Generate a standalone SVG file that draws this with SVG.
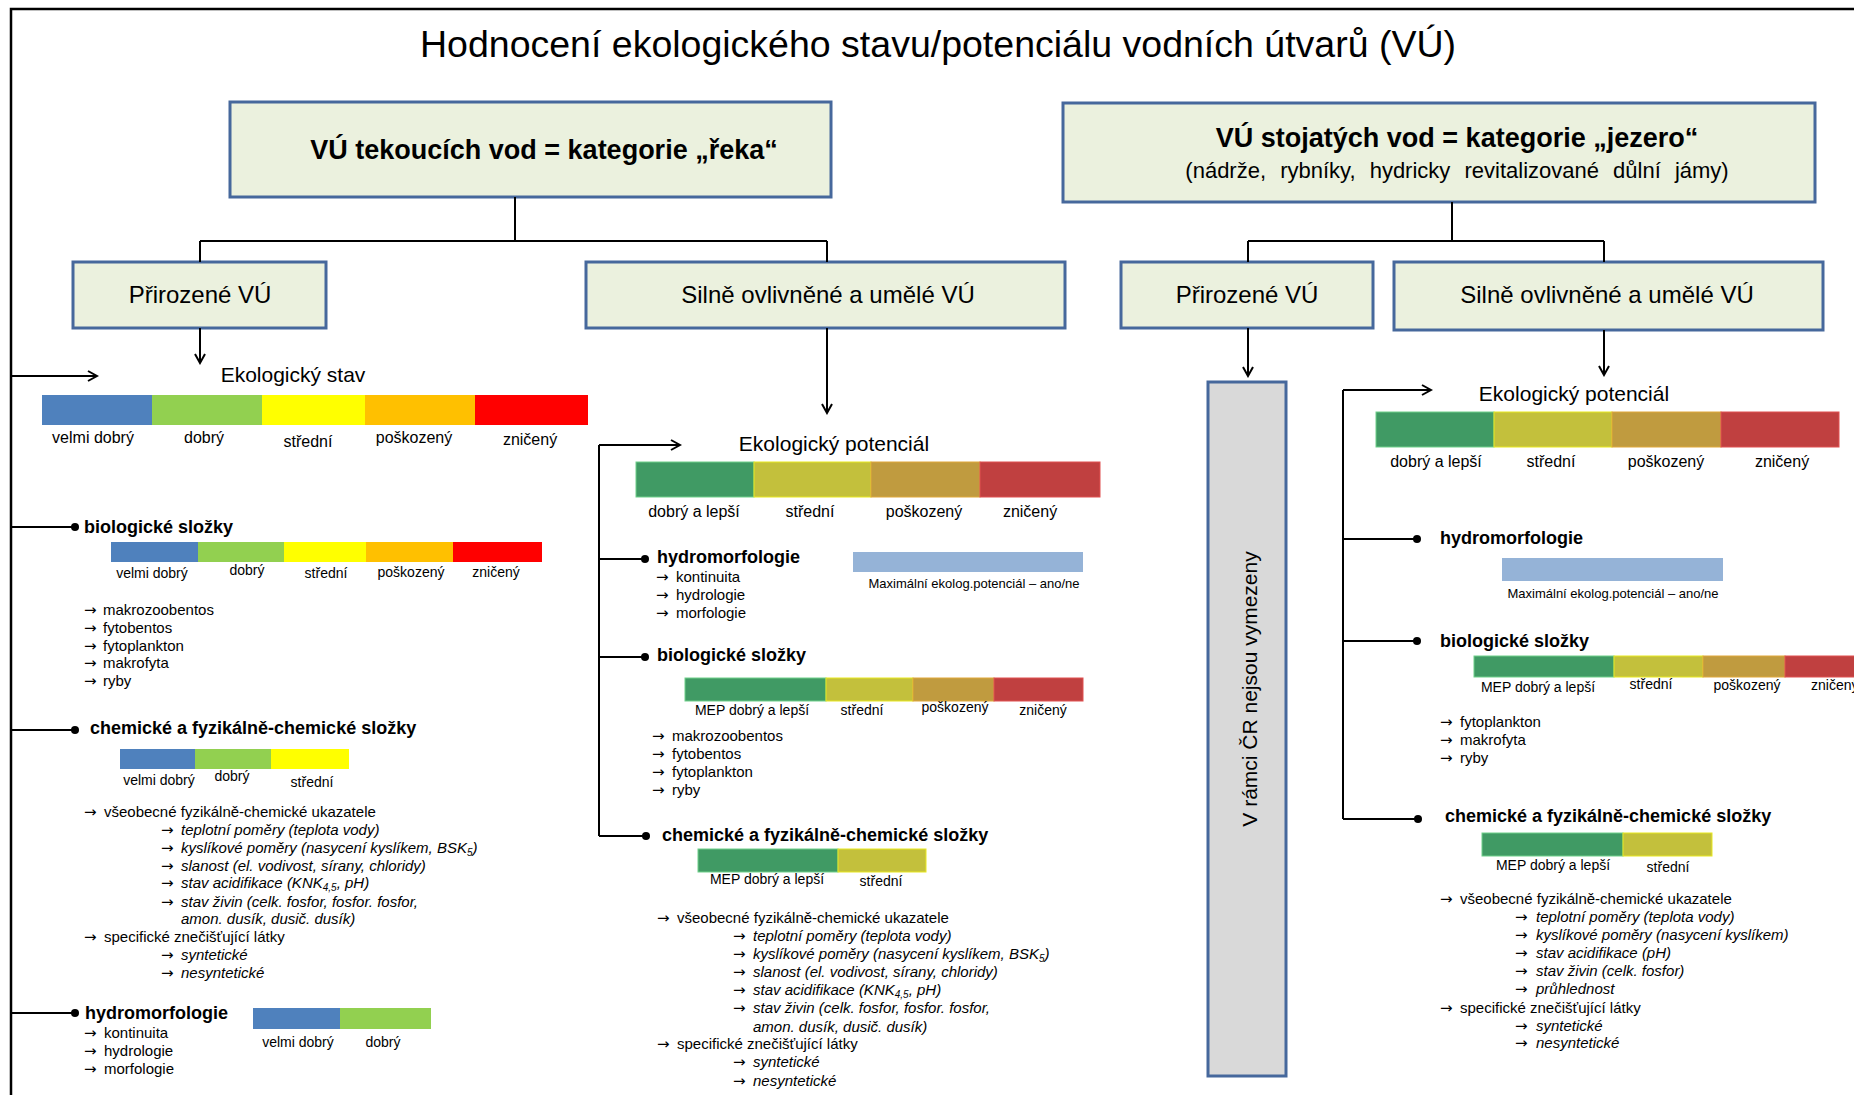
<svg xmlns="http://www.w3.org/2000/svg" width="1854" height="1095" viewBox="0 0 1854 1095">
<defs>
<style>
text{font-family:"Liberation Sans",Arial,sans-serif;fill:#000}
.box{fill:#ebf1de;stroke:#46689c;stroke-width:3}
.grey{fill:#d9d9d9;stroke:#46689c;stroke-width:3}
.con{stroke:#000;stroke-width:2;fill:none}
.t15{font-size:15px}
.ar{font-family:"DejaVu Sans",sans-serif;font-size:15px;font-style:normal}
.b18{font-size:18px;font-weight:bold}
.l16{font-size:16px;text-anchor:middle}
.l14{font-size:14px;text-anchor:middle}
.l13{font-size:13px;text-anchor:middle}
.h21{font-size:21px;text-anchor:middle}
.bx{font-size:24px;text-anchor:middle}
.it{font-style:italic}
.c1{fill:#4f81bd}.c2{fill:#92d050}.c3{fill:#ffff00}.c4{fill:#ffc000}.c5{fill:#ff0000}
.p1{fill:#409a64;stroke:#6fd08a;stroke-width:1}
.p2{fill:#c3c03c;stroke:#e8e820;stroke-width:1}
.p3{fill:#c09b3f;stroke:#e0a83a;stroke-width:1}
.p4{fill:#c04040;stroke:#e05050;stroke-width:1}
.mx{fill:#95b3d7}
</style>
<marker id="arr" markerWidth="12" markerHeight="12" refX="10" refY="6" orient="auto" markerUnits="userSpaceOnUse">
<path d="M1,1 L10,6 L1,11" fill="none" stroke="#000" stroke-width="2"/>
</marker>
</defs>
<rect x="0" y="0" width="1854" height="1095" fill="#fff"/>
<rect x="11" y="9" width="1900" height="1200" fill="none" stroke="#000" stroke-width="2.5"/>

<g id="title"><text x="938" y="57" font-size="37.5" text-anchor="middle">Hodnocení ekologického stavu/potenciálu vodních útvarů (VÚ)</text></g>

<g id="box-reka"><rect class="box" x="230" y="102" width="601" height="95"/>
<text x="544" y="159" font-size="27" font-weight="bold" text-anchor="middle">VÚ tekoucích vod = kategorie „řeka“</text></g>

<g id="box-jezero"><rect class="box" x="1063" y="103" width="752" height="99"/>
<text x="1457" y="147" font-size="27" font-weight="bold" text-anchor="middle">VÚ stojatých vod = kategorie „jezero“</text>
<text x="1457" y="178" font-size="22" text-anchor="middle" word-spacing="8">(nádrže, rybníky, hydricky revitalizované důlní jámy)</text></g>

<g id="box-reka-prir"><rect class="box" x="73" y="262" width="253" height="66"/><text class="bx" x="200" y="303">Přirozené VÚ</text></g>
<g id="box-reka-silne"><rect class="box" x="586" y="262" width="479" height="66"/><text class="bx" x="828" y="303">Silně ovlivněné a umělé VÚ</text></g>
<g id="box-jez-prir"><rect class="box" x="1121" y="262" width="252" height="66"/><text class="bx" x="1247" y="303">Přirozené VÚ</text></g>
<g id="box-jez-silne"><rect class="box" x="1394" y="262" width="429" height="68"/><text class="bx" x="1607" y="303">Silně ovlivněné a umělé VÚ</text></g>

<g id="box-jez-prir-none"><rect class="grey" x="1208" y="382" width="78" height="694"/>
<text transform="translate(1257,689) rotate(-90)" font-size="21" text-anchor="middle">V rámci ČR nejsou vymezeny</text></g>

<g id="connectors">
<path class="con" d="M515,197 V241 M200,241 H827 M200,241 V262 M827,241 V262"/>
<path class="con" d="M1452,202 V241 M1248,241 H1604 M1248,241 V262 M1604,241 V262"/>
<path class="con" d="M200,328 V363" marker-end="url(#arr)"/>
<path class="con" d="M827,328 V413" marker-end="url(#arr)"/>
<path class="con" d="M1248,328 V376" marker-end="url(#arr)"/>
<path class="con" d="M1604,330 V375" marker-end="url(#arr)"/>
<path class="con" d="M11,376 H97" marker-end="url(#arr)"/>
<path class="con" d="M11,527 H75 M11,730 H75 M11,1013 H75"/>
<path class="con" d="M599,836 V445"/>
<path class="con" d="M599,445 H680" marker-end="url(#arr)"/>
<path class="con" d="M599,559 H645 M599,657 H645 M599,836 H646"/>
<path class="con" d="M1343,819 V390"/>
<path class="con" d="M1343,390 H1431" marker-end="url(#arr)"/>
<path class="con" d="M1343,539 H1417 M1343,641 H1417 M1343,819 H1418"/>
<circle cx="75" cy="527" r="4"/><circle cx="75" cy="730" r="4"/><circle cx="75" cy="1013" r="4"/>
<circle cx="645" cy="559" r="4"/><circle cx="645" cy="657" r="4"/><circle cx="646" cy="836" r="4"/>
<circle cx="1417" cy="539" r="4"/><circle cx="1417" cy="641" r="4"/><circle cx="1418" cy="819" r="4"/>
</g>

<g id="reka-prir-stav">
<text class="h21" x="293" y="382">Ekologický stav</text>
<rect class="c1" x="42" y="395" width="110" height="30"/><rect class="c2" x="152" y="395" width="110" height="30"/><rect class="c3" x="262" y="395" width="103" height="30"/><rect class="c4" x="365" y="395" width="110" height="30"/><rect class="c5" x="475" y="395" width="113" height="30"/>
<text class="l16" x="93" y="443">velmi dobrý</text><text class="l16" x="204" y="443">dobrý</text><text class="l16" x="308" y="447">střední</text><text class="l16" x="414" y="443">poškozený</text><text class="l16" x="530" y="445">zničený</text>
</g>

<g id="reka-prir-bio">
<text class="b18" x="84" y="533">biologické složky</text>
<rect class="c1" x="111" y="542" width="87" height="20"/><rect class="c2" x="198" y="542" width="86" height="20"/><rect class="c3" x="284" y="542" width="82" height="20"/><rect class="c4" x="366" y="542" width="87" height="20"/><rect class="c5" x="453" y="542" width="89" height="20"/>
<text class="l14" x="152" y="578">velmi dobrý</text><text class="l14" x="247" y="575">dobrý</text><text class="l14" x="326" y="578">střední</text><text class="l14" x="411" y="577">poškozený</text><text class="l14" x="496" y="577">zničený</text>
<text class="t15" y="615"><tspan class="ar" x="84">→</tspan><tspan x="103">makrozoobentos</tspan></text>
<text class="t15" y="633"><tspan class="ar" x="84">→</tspan><tspan x="103">fytobentos</tspan></text>
<text class="t15" y="651"><tspan class="ar" x="84">→</tspan><tspan x="103">fytoplankton</tspan></text>
<text class="t15" y="668"><tspan class="ar" x="84">→</tspan><tspan x="103">makrofyta</tspan></text>
<text class="t15" y="686"><tspan class="ar" x="84">→</tspan><tspan x="103">ryby</tspan></text>
</g>

<g id="reka-prir-chem">
<text class="b18" x="90" y="734">chemické a fyzikálně-chemické složky</text>
<rect class="c1" x="120" y="749" width="75" height="20"/><rect class="c2" x="195" y="749" width="76" height="20"/><rect class="c3" x="271" y="749" width="78" height="20"/>
<text class="l14" x="159" y="785">velmi dobrý</text><text class="l14" x="232" y="781">dobrý</text><text class="l14" x="312" y="787">střední</text>
<text class="t15" y="817"><tspan class="ar" x="84">→</tspan><tspan x="104">všeobecné fyzikálně-chemické ukazatele</tspan></text>
<text class="t15" y="835"><tspan class="ar" x="161">→</tspan><tspan class="it" x="181">teplotní poměry (teplota vody)</tspan></text>
<text class="t15" y="853"><tspan class="ar" x="161">→</tspan><tspan class="it" x="181">kyslíkové poměry (nasycení kyslíkem, BSK<tspan font-size="10" dy="3">5</tspan><tspan dy="-3">)</tspan></tspan></text>
<text class="t15" y="871"><tspan class="ar" x="161">→</tspan><tspan class="it" x="181">slanost (el. vodivost, sírany, chloridy)</tspan></text>
<text class="t15" y="888"><tspan class="ar" x="161">→</tspan><tspan class="it" x="181">stav acidifikace (KNK<tspan font-size="10" dy="3">4,5</tspan><tspan dy="-3">, pH)</tspan></tspan></text>
<text class="t15" y="907"><tspan class="ar" x="161">→</tspan><tspan class="it" x="181">stav živin (celk. fosfor, fosfor. fosfor,</tspan></text>
<text class="t15 it" x="181" y="924">amon. dusík, dusič. dusík)</text>
<text class="t15" y="942"><tspan class="ar" x="84">→</tspan><tspan x="104">specifické znečišťující látky</tspan></text>
<text class="t15" y="960"><tspan class="ar" x="161">→</tspan><tspan class="it" x="181">syntetické</tspan></text>
<text class="t15" y="978"><tspan class="ar" x="161">→</tspan><tspan class="it" x="181">nesyntetické</tspan></text>
</g>

<g id="reka-prir-hydro">
<text class="b18" x="85" y="1019" font-size="19">hydromorfologie</text>
<text class="t15" y="1038"><tspan class="ar" x="84">→</tspan><tspan x="104">kontinuita</tspan></text>
<text class="t15" y="1056"><tspan class="ar" x="84">→</tspan><tspan x="104">hydrologie</tspan></text>
<text class="t15" y="1074"><tspan class="ar" x="84">→</tspan><tspan x="104">morfologie</tspan></text>
<rect class="c1" x="253" y="1008" width="87" height="21"/><rect class="c2" x="340" y="1008" width="91" height="21"/>
<text class="l14" x="298" y="1047">velmi dobrý</text><text class="l14" x="383" y="1047">dobrý</text>
</g>

<g id="reka-silne-pot">
<text class="h21" x="834" y="451">Ekologický potenciál</text>
<rect class="p1" x="636" y="462" width="118" height="35"/><rect class="p2" x="754" y="462" width="117" height="35"/><rect class="p3" x="871" y="462" width="109" height="35"/><rect class="p4" x="980" y="462" width="120" height="35"/>
<text class="l16" x="694" y="517">dobrý a lepší</text><text class="l16" x="810" y="517">střední</text><text class="l16" x="924" y="517">poškozený</text><text class="l16" x="1030" y="517">zničený</text>
</g>

<g id="reka-silne-hydro">
<text class="b18" x="657" y="563">hydromorfologie</text>
<text class="t15" y="582"><tspan class="ar" x="656">→</tspan><tspan x="676">kontinuita</tspan></text>
<text class="t15" y="600"><tspan class="ar" x="656">→</tspan><tspan x="676">hydrologie</tspan></text>
<text class="t15" y="618"><tspan class="ar" x="656">→</tspan><tspan x="676">morfologie</tspan></text>
<rect class="mx" x="853" y="552" width="230" height="20"/>
<text class="l13" x="974" y="588">Maximální  ekolog.potenciál – ano/ne</text>
</g>

<g id="reka-silne-bio">
<text class="b18" x="657" y="661">biologické složky</text>
<rect class="p1" x="685" y="678" width="141" height="23"/><rect class="p2" x="826" y="678" width="87" height="23"/><rect class="p3" x="913" y="678" width="81" height="23"/><rect class="p4" x="994" y="678" width="89" height="23"/>
<text class="l14" x="752" y="715">MEP dobrý a lepší</text><text class="l14" x="862" y="715">střední</text><text class="l14" x="955" y="712">poškozený</text><text class="l14" x="1043" y="715">zničený</text>
<text class="t15" y="741"><tspan class="ar" x="652">→</tspan><tspan x="672">makrozoobentos</tspan></text>
<text class="t15" y="759"><tspan class="ar" x="652">→</tspan><tspan x="672">fytobentos</tspan></text>
<text class="t15" y="777"><tspan class="ar" x="652">→</tspan><tspan x="672">fytoplankton</tspan></text>
<text class="t15" y="795"><tspan class="ar" x="652">→</tspan><tspan x="672">ryby</tspan></text>
</g>

<g id="reka-silne-chem">
<text class="b18" x="662" y="841">chemické a fyzikálně-chemické složky</text>
<rect class="p1" x="698" y="849" width="140" height="23"/><rect class="p2" x="838" y="849" width="88" height="23"/>
<text class="l14" x="767" y="884">MEP dobrý a lepší</text><text class="l14" x="881" y="886">střední</text>
<text class="t15" y="923"><tspan class="ar" x="657">→</tspan><tspan x="677">všeobecné fyzikálně-chemické ukazatele</tspan></text>
<text class="t15" y="941"><tspan class="ar" x="733">→</tspan><tspan class="it" x="753">teplotní poměry (teplota vody)</tspan></text>
<text class="t15" y="959"><tspan class="ar" x="733">→</tspan><tspan class="it" x="753">kyslíkové poměry (nasycení kyslíkem, BSK<tspan font-size="10" dy="3">5</tspan><tspan dy="-3">)</tspan></tspan></text>
<text class="t15" y="977"><tspan class="ar" x="733">→</tspan><tspan class="it" x="753">slanost (el. vodivost, sírany, chloridy)</tspan></text>
<text class="t15" y="995"><tspan class="ar" x="733">→</tspan><tspan class="it" x="753">stav acidifikace (KNK<tspan font-size="10" dy="3">4,5</tspan><tspan dy="-3">, pH)</tspan></tspan></text>
<text class="t15" y="1013"><tspan class="ar" x="733">→</tspan><tspan class="it" x="753">stav živin (celk. fosfor, fosfor. fosfor,</tspan></text>
<text class="t15 it" x="753" y="1032">amon. dusík, dusič. dusík)</text>
<text class="t15" y="1049"><tspan class="ar" x="657">→</tspan><tspan x="677">specifické znečišťující látky</tspan></text>
<text class="t15" y="1067"><tspan class="ar" x="733">→</tspan><tspan class="it" x="753">syntetické</tspan></text>
<text class="t15" y="1086"><tspan class="ar" x="733">→</tspan><tspan class="it" x="753">nesyntetické</tspan></text>
</g>

<g id="jez-silne-pot">
<text class="h21" x="1574" y="401">Ekologický potenciál</text>
<rect class="p1" x="1376" y="412" width="118" height="35"/><rect class="p2" x="1494" y="412" width="118" height="35"/><rect class="p3" x="1612" y="412" width="109" height="35"/><rect class="p4" x="1721" y="412" width="118" height="35"/>
<text class="l16" x="1436" y="467">dobrý a lepší</text><text class="l16" x="1551" y="467">střední</text><text class="l16" x="1666" y="467">poškozený</text><text class="l16" x="1782" y="467">zničený</text>
</g>

<g id="jez-silne-hydro">
<text class="b18" x="1440" y="544">hydromorfologie</text>
<rect class="mx" x="1502" y="558" width="221" height="23"/>
<text class="l13" x="1613" y="598">Maximální  ekolog.potenciál – ano/ne</text>
</g>

<g id="jez-silne-bio">
<text class="b18" x="1440" y="647">biologické složky</text>
<rect class="p1" x="1474" y="656" width="140" height="21"/><rect class="p2" x="1614" y="656" width="89" height="21"/><rect class="p3" x="1703" y="656" width="82" height="21"/><rect class="p4" x="1785" y="656" width="80" height="21"/>
<text class="l14" x="1538" y="692">MEP dobrý a lepší</text><text class="l14" x="1651" y="689">střední</text><text class="l14" x="1747" y="690">poškozený</text><text font-size="14" x="1811" y="690">zničený</text>
<text class="t15" y="727"><tspan class="ar" x="1440">→</tspan><tspan x="1460">fytoplankton</tspan></text>
<text class="t15" y="745"><tspan class="ar" x="1440">→</tspan><tspan x="1460">makrofyta</tspan></text>
<text class="t15" y="763"><tspan class="ar" x="1440">→</tspan><tspan x="1460">ryby</tspan></text>
</g>

<g id="jez-silne-chem">
<text class="b18" x="1445" y="822">chemické a fyzikálně-chemické složky</text>
<rect class="p1" x="1482" y="833" width="141" height="23"/><rect class="p2" x="1623" y="833" width="89" height="23"/>
<text class="l14" x="1553" y="870">MEP dobrý a lepší</text><text class="l14" x="1668" y="872">střední</text>
<text class="t15" y="904"><tspan class="ar" x="1440">→</tspan><tspan x="1460">všeobecné fyzikálně-chemické ukazatele</tspan></text>
<text class="t15" y="922"><tspan class="ar" x="1515">→</tspan><tspan class="it" x="1536">teplotní poměry (teplota vody)</tspan></text>
<text class="t15" y="940"><tspan class="ar" x="1515">→</tspan><tspan class="it" x="1536">kyslíkové poměry (nasycení kyslíkem)</tspan></text>
<text class="t15" y="958"><tspan class="ar" x="1515">→</tspan><tspan class="it" x="1536">stav acidifikace (pH)</tspan></text>
<text class="t15" y="976"><tspan class="ar" x="1515">→</tspan><tspan class="it" x="1536">stav živin (celk. fosfor)</tspan></text>
<text class="t15" y="994"><tspan class="ar" x="1515">→</tspan><tspan class="it" x="1536">průhlednost</tspan></text>
<text class="t15" y="1013"><tspan class="ar" x="1440">→</tspan><tspan x="1460">specifické znečišťující látky</tspan></text>
<text class="t15" y="1031"><tspan class="ar" x="1515">→</tspan><tspan class="it" x="1536">syntetické</tspan></text>
<text class="t15" y="1048"><tspan class="ar" x="1515">→</tspan><tspan class="it" x="1536">nesyntetické</tspan></text>
</g>
</svg>
